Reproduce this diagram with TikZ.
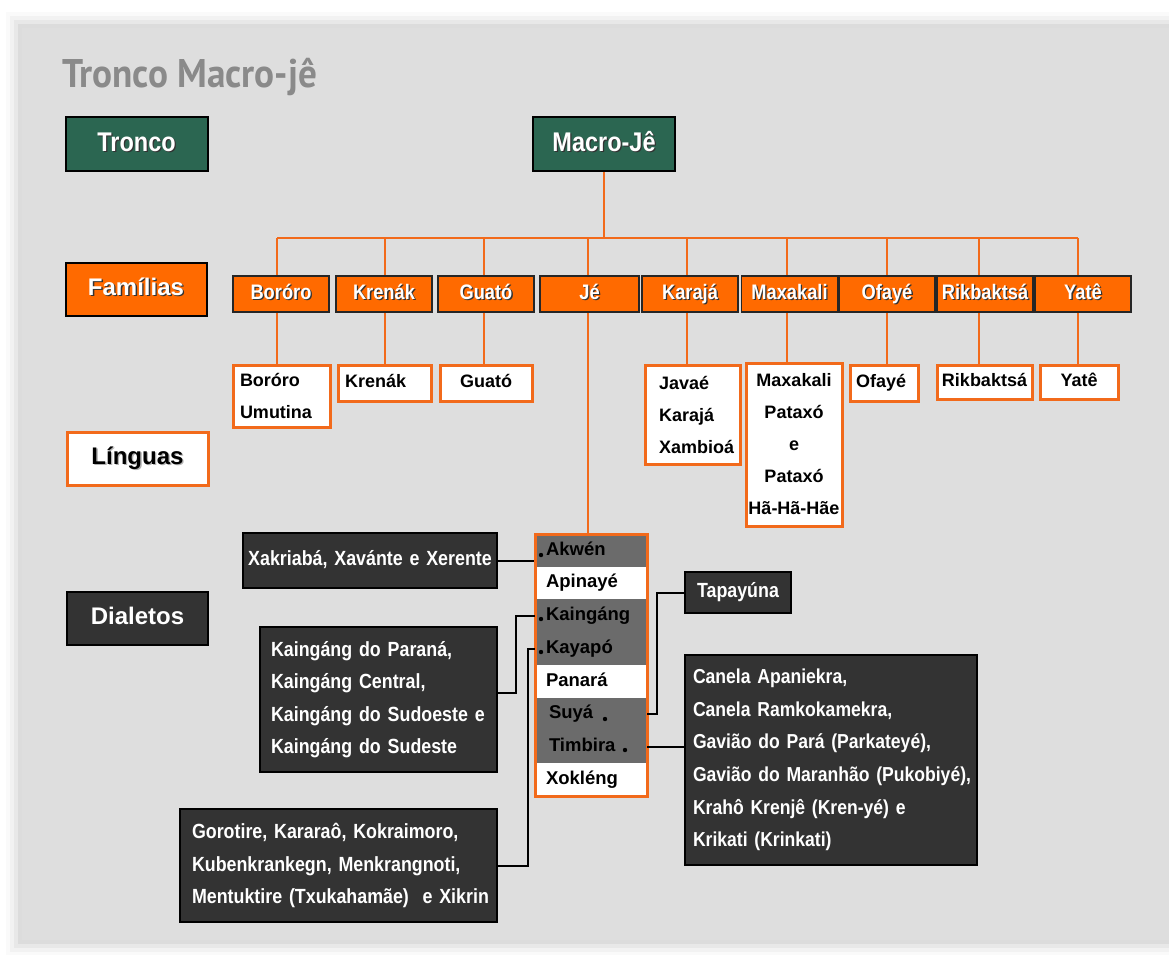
\documentclass[tikz,border=0pt]{standalone}
\usepackage{fontspec}
\setmainfont{Liberation Sans}
\newfontfamily\cond{Liberation Sans}[FakeStretch=0.87,WordSpace=0.85]
\newfontfamily\titlefont{PT Sans}[FakeStretch=0.93]
\definecolor{bg}{HTML}{DEDEDE}
\definecolor{orng}{HTML}{FF6A00}
\definecolor{oline}{HTML}{F26A1B}
\definecolor{grn}{HTML}{2B6651}
\definecolor{dark}{HTML}{333333}
\definecolor{rowgray}{HTML}{6B6B6B}
\definecolor{titlegray}{HTML}{8A8A8A}
\newcommand\shtxt[1]{\leavevmode\rlap{\kern1.3pt\raisebox{-1.3pt}{\textcolor{black!80}{#1}}}#1}
\newcommand\shblk[1]{\leavevmode\rlap{\kern1.3pt\raisebox{-1.3pt}{\textcolor{black!30}{#1}}}#1}
\tikzset{
  trbox/.style={draw=black, line width=2pt, fill=grn, text=white, font=\cond\bfseries\fontsize{27}{30}\selectfont, minimum width=142pt, minimum height=54pt, inner sep=0pt, text height=19pt, text depth=5pt},
  fambox/.style={draw=black!85, line width=1.5pt, fill=orng, text=white, font=\cond\bfseries\fontsize{21}{24}\selectfont, minimum width=96pt, minimum height=36pt, inner sep=0pt, text height=15pt, text depth=4pt},
  lvlbox/.style={line width=2pt, font=\bfseries\fontsize{24}{28}\selectfont, minimum width=141pt, minimum height=53pt, inner sep=0pt, text height=17pt, text depth=5pt},
  langbox/.style={draw=oline, line width=3pt, fill=white, text=black, font=\bfseries\fontsize{18}{32}\selectfont, inner ysep=0pt},
  oneline/.style={text height=13pt, text depth=4pt},
  dialbox/.style={draw=black, line width=2pt, fill=dark, text=white, font=\cond\bfseries\fontsize{20.5}{32.5}\selectfont, inner ysep=0pt},
  rowbox/.style={minimum width=112pt, minimum height=32.75pt, inner ysep=0pt, inner xsep=11pt, text width=90pt, align=left, font=\bfseries\fontsize{18.5}{22}\selectfont, text height=13.5pt, text depth=4pt},
  oconn/.style={draw=oline, line width=2.7pt},
  bconn/.style={draw=black, line width=2pt},
  dot/.style={fill=black}
}
\begin{document}
\begin{tikzpicture}[x=1pt,y=-1pt]
\useasboundingbox (0,0) rectangle (1169,954);
\fill[white] (0,0) rectangle (1169,954);
% soft shadow of the slide
\foreach \d/\o in {16/0.02,12/0.03,8/0.04,4/0.05}{
  \fill[black,opacity=\o] (22-\d,28-\d) rectangle (1169,940+\d);
}
\fill[bg] (22,28) rectangle (1169,940);

% title
\node[anchor=base west, inner sep=0pt, text=titlegray, font=\titlefont\bfseries\fontsize{40}{44}\selectfont] (title) at (62,87) {Tronco Macro-jê};

% level labels
\node[trbox] (tronco) at (136.5,144) {\shtxt{Tronco}};
\node[lvlbox, draw=black, fill=orng, text=white] (familias) at (136,289) {\shtxt{Famílias}};
\node[lvlbox, draw=oline, line width=3pt, fill=white, text=black] (linguas) at (137.5,458.5) {\shblk{Línguas}};
\node[lvlbox, draw=black, fill=dark, text=white] (dialetos) at (137.5,618.5) {\shtxt{Dialetos}};

% trunk
\node[trbox] (macro) at (604,144) {\shtxt{Macro-Jê}};

% families
\node[fambox] (fBororo) at (281,294) {\shtxt{Boróro}};
\node[fambox] (fKrenak) at (384,294) {\shtxt{Krenák}};
\node[fambox] (fGuato) at (486,294) {\shtxt{Guató}};
\node[fambox, minimum width=99pt] (fJe) at (589.5,294) {\shtxt{Jé}};
\node[fambox] (fKaraja) at (690,294) {\shtxt{Karajá}};
\node[fambox] (fMaxakali) at (789.5,294) {\shtxt{Maxakali}};
\node[fambox] (fOfaye) at (887,294) {\shtxt{Ofayé}};
\node[fambox] (fRikbaktsa) at (985,294) {\shtxt{Rikbaktsá}};
\node[fambox] (fYate) at (1083,294) {\shtxt{Yatê}};

% languages
\node[langbox, inner xsep=7pt, text width=83pt, align=left, minimum height=62pt] (lBororo) at (281.5,396) {Boróro\\Umutina};
\node[langbox, oneline, inner xsep=7pt, text width=79pt, align=left, minimum height=36pt] (lKrenak) at (384.5,383) {Krenák};
\node[langbox, oneline, inner xsep=7pt, text width=78pt, align=center, minimum height=36pt] (lGuato) at (486,383) {Guató};
\node[langbox, inner xsep=14pt, text width=67pt, align=left, minimum height=99pt] (lKaraja) at (692.5,414.5) {Javaé\\Karajá\\Xambioá};
\node[langbox, inner xsep=2pt, text width=92pt, align=center, minimum height=163pt] (lMaxakali) at (794,444.5) {Maxakali\\Pataxó\\e\\Pataxó\\\mbox{Hã-Hã-Hãe}};
\node[langbox, oneline, inner xsep=6pt, text width=56pt, align=left, minimum height=36pt] (lOfaye) at (884,383) {Ofayé};
\node[langbox, oneline, inner xsep=4pt, text width=87pt, align=center, minimum height=34pt] (lRikbaktsa) at (984.5,382) {Rikbaktsá};
\node[langbox, oneline, inner xsep=4pt, text width=70pt, align=center, minimum height=34pt] (lYate) at (1079,382) {Yatê};

% Je list
\fill[rowgray] (535,534) rectangle (647,567);
\fill[rowgray] (535,599) rectangle (647,665);
\fill[rowgray] (535,697) rectangle (647,763);
\node[rowbox] (rAkwen) at (591,550.4) {Akwén};
\node[rowbox, fill=white] (rApinaye) at (591,583.1) {Apinayé};
\node[rowbox] (rKaingang) at (591,615.9) {Kaingáng};
\node[rowbox] (rKayapo) at (591,648.6) {Kayapó};
\node[rowbox, fill=white] (rPanara) at (591,681.4) {Panará};
\node[rowbox, inner xsep=14pt, text width=84pt] (rSuya) at (591,714.1) {Suyá};
\node[rowbox, inner xsep=14pt, text width=84pt] (rTimbira) at (591,746.9) {Timbira};
\node[rowbox, fill=white] (rXokleng) at (591,779.6) {Xokléng};
\node[draw=oline, line width=3pt, minimum width=112pt, minimum height=262pt, inner sep=0pt] (jebox) at (591,665) {};
\fill[dot] (541,555) circle (2.2);
\fill[dot] (541,619) circle (2.2);
\fill[dot] (541,652) circle (2.2);
\fill[dot] (605,719) circle (2.2);
\fill[dot] (625,750) circle (2.2);

% dialect boxes
\node[dialbox, oneline, inner xsep=4pt, text width=246pt, align=center, minimum height=55pt] (xak) at (370,560.5) {Xakriabá, Xavánte e Xerente};
\node[dialbox, inner xsep=11pt, text width=215pt, align=left, minimum height=145pt] (kain) at (378.5,699.5) {Kaingáng do Paraná,\\Kaingáng Central,\\\mbox{Kaingáng do Sudoeste e}\\Kaingáng do Sudeste};
\node[dialbox, inner xsep=12pt, text width=293pt, align=left, minimum height=113pt] (goro) at (338.5,865.5) {\mbox{Gorotire, Kararaô, Kokraimoro,}\\\mbox{Kubenkrankegn, Menkrangnoti,}\\\mbox{Mentuktire (Txukahamãe)\ \ e Xikrin}};
\node[dialbox, oneline, inner xsep=12pt, text width=82pt, align=left, minimum height=41pt] (tapa) at (738,592.5) {Tapayúna};
\node[dialbox, inner xsep=8pt, text width=276pt, align=left, minimum height=210pt, font=\cond\bfseries\fontsize{20.2}{32.6}\selectfont] (canela) at (831,760) {Canela Apaniekra,\\Canela Ramkokamekra,\\\mbox{Gavião do Pará (Parkateyé),}\\\mbox{Gavião do Maranhão (Pukobiyé),}\\Krahô Krenjê (Kren-yé) e\\Krikati (Krinkati)};

% orange tree connectors
\coordinate (busL) at (277,238);
\coordinate (busR) at (1078,238);
\draw[oconn] (macro.south) -- (macro.south |- busL);
\draw[oconn] (busL) -- (busR);
\foreach \x/\f/\l in {277/fBororo/lBororo, 385/fKrenak/lKrenak, 484/fGuato/lGuato, 687/fKaraja/lKaraja, 787/fMaxakali/lMaxakali, 887/fOfaye/lOfaye, 979/fRikbaktsa/lRikbaktsa, 1078/fYate/lYate}{
  \coordinate (d) at (\x,238);
  \draw[oconn] (d) -- (d |- \f.north);
  \draw[oconn] (\f.south -| d) -- (\l.north -| d);
}
\coordinate (dJe) at (588,238);
\draw[oconn] (dJe) -- (dJe |- fJe.north);
\draw[oconn] (fJe.south -| dJe) -- (jebox.north -| dJe);

% black dialect connectors
\draw[bconn] (xak.east) -- (xak.east -| jebox.west);
\draw[bconn] ([yshift=6.5pt]kain.east) -- ++(18,0) |- (rKaingang.west);
\draw[bconn] (goro.east) -- ++(30,0) |- (rKayapo.west);
\draw[bconn] (rSuya.east) -- ++(10,0) |- (tapa.west);
\draw[bconn] (rTimbira.east) -- (rTimbira.east -| canela.west);
\end{tikzpicture}
\end{document}
